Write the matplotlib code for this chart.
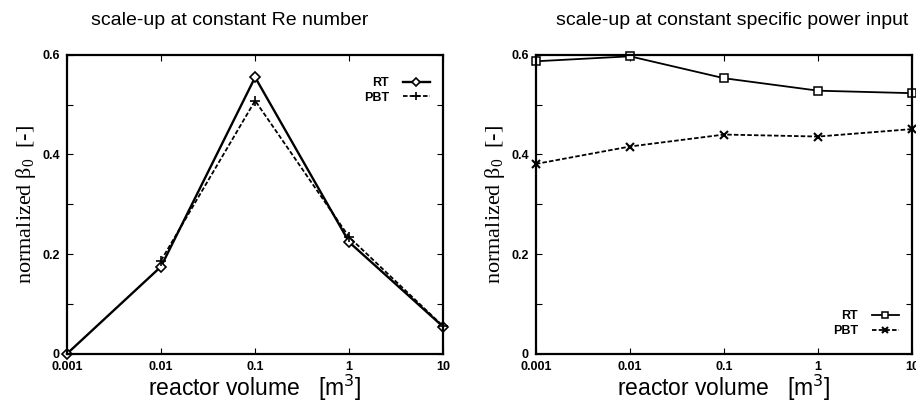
import numpy as np
import matplotlib
matplotlib.use("Agg")
import matplotlib.pyplot as plt
from matplotlib.ticker import FixedLocator, NullLocator, MultipleLocator

# reactor volumes [m^3]
volume = [0.001, 0.01, 0.1, 1, 10]
volume_pbt_re = [0.01, 0.1, 1, 10]
tick_labels = ["0.001", "0.01", "0.1", "1", "10"]

# scale-up at constant Re number
re_rt = [0.0, 0.175, 0.555, 0.224, 0.054]
re_pbt = [0.187, 0.508, 0.234, 0.055]

# scale-up at constant specific power input
p_rt = [0.587, 0.597, 0.553, 0.528, 0.523]
p_pbt = [0.381, 0.416, 0.440, 0.436, 0.451]

titles = ["scale-up at constant Re number",
          "scale-up at constant specific power input"]

fig = plt.figure(figsize=(9.16, 4.03), dpi=100)
ax1 = fig.add_axes([0.073, 0.122, 0.411, 0.742])
ax2 = fig.add_axes([0.585, 0.122, 0.411, 0.742])

sans = "Liberation Sans"
serif = "Liberation Serif"


def style_axes(ax):
    ax.set_xscale("log")
    ax.set_xlim(0.001, 10)
    ax.set_ylim(0, 0.6)
    ax.xaxis.set_major_locator(FixedLocator(volume))
    ax.xaxis.set_minor_locator(NullLocator())
    ax.set_xticklabels(tick_labels)
    ax.set_yticks([0, 0.2, 0.4, 0.6])
    ax.set_yticklabels(["0", "0.2", "0.4", "0.6"])
    ax.yaxis.set_minor_locator(MultipleLocator(0.1))
    ax.tick_params(which="both", direction="in", top=True, right=True,
                   length=4, width=0.8, pad=5)
    for lab in ax.get_xticklabels() + ax.get_yticklabels():
        lab.set_fontfamily(sans)
        lab.set_fontweight("bold")
        lab.set_fontsize(9)
    for s in ax.spines.values():
        s.set_linewidth(1.6)
    ax.set_xlabel("reactor volume   [m$^3$]", fontfamily=sans, fontsize=16.5,
                  labelpad=0)
    ax.set_ylabel(r"normalized $\mathregular{\beta_0}$  [-]", fontfamily=serif,
                  fontsize=16, labelpad=3)


ax1.plot(volume, re_rt, "-", color="black", lw=1.7, marker="D", ms=5,
         mfc="white", mec="black", mew=1.2, label="RT", clip_on=False)
ax1.plot(volume_pbt_re, re_pbt, "--", color="black", lw=1.3, marker="+",
         ms=7, mew=1.2, label="PBT", dashes=(2.5, 1.2), clip_on=False)

ax2.plot(volume, p_rt, "-", color="black", lw=1.3, marker="s", ms=6,
         mfc="white", mec="black", mew=1.1, label="RT", clip_on=False)
ax2.plot(volume, p_pbt, "--", color="black", lw=1.3, marker="x", ms=6,
         mew=1.5, label="PBT", dashes=(2.5, 1.2), clip_on=False)

for ax in (ax1, ax2):
    style_axes(ax)

leg_kw = dict(frameon=False, markerfirst=False, handlelength=2.2,
              prop={"family": sans, "weight": "bold", "size": 9},
              labelspacing=0.2, handletextpad=1.1, markerscale=0.8,
              borderaxespad=0.0, borderpad=0.0)
leg1 = ax1.legend(loc="upper right", bbox_to_anchor=(0.965, 0.925), **leg_kw)
leg2 = ax2.legend(loc="upper right", bbox_to_anchor=(0.965, 0.145), **leg_kw)
for leg in (leg1, leg2):
    for t in leg.get_texts():
        t.set_ha("right")

fig.text(0.251, 0.948, titles[0], ha="center", va="center",
         fontfamily=sans, fontsize=14)
fig.text(0.799, 0.948, titles[1], ha="center", va="center",
         fontfamily=sans, fontsize=14)

fig.savefig("out.png", dpi=100)
